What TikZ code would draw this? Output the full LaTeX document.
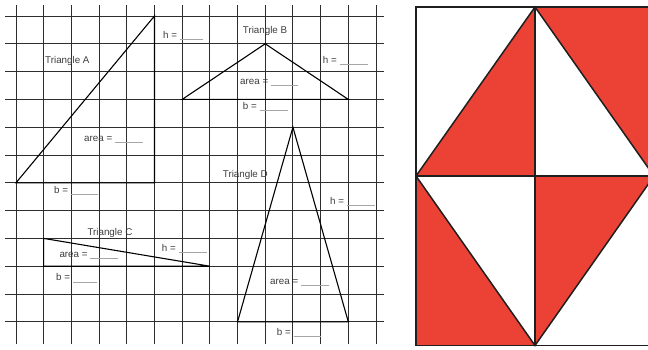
\documentclass[tikz,border=0pt]{standalone}
\usepackage{fontspec}
\setmainfont{Liberation Sans}
\definecolor{redfill}{RGB}{236,66,54}
\definecolor{gridc}{RGB}{45,45,45}
\definecolor{labc}{RGB}{60,60,60}
\tikzset{
  gridline/.style={draw=gridc, line width=0.9pt},
  tri/.style={draw=black, line width=1.1pt, line join=miter},
  lbl/.style={font=\fontsize{9.8}{12}\selectfont, text=labc, inner sep=0pt, anchor=base west},
  panel/.style={draw=black!88, line width=1.5pt},
}
\newcommand{\blankline}[1]{{\color{gray!70}\rule[-1.5pt]{#1pt}{0.8pt}}}
\begin{document}
\begin{tikzpicture}[x=1pt,y=-1pt]
\useasboundingbox (0,0) rectangle (648,349);
\begin{scope}
\clip (0,0) rectangle (648,349);
% grid
\foreach \i in {0,...,13} \draw[gridline] ({16+\i*27.6923},5) -- ({16+\i*27.6923},344);
\foreach \j in {0,...,11} \draw[gridline] (5,{16+\j*27.8}) -- (384,{16+\j*27.8});

% Triangle A
\coordinate (A1) at (16,182.8);
\coordinate (A2) at (154.46,16);
\coordinate (A3) at (154.46,182.8);
\draw[tri] (A1) -- (A2) -- (A3) -- cycle;
% Triangle B
\coordinate (B1) at (182.15,99.4);
\coordinate (B2) at (265.23,43.8);
\coordinate (B3) at (348.31,99.4);
\draw[tri] (B1) -- (B2) -- (B3) -- cycle;
% Triangle C
\coordinate (C1) at (43.69,238.4);
\coordinate (C2) at (43.69,266.2);
\coordinate (C3) at (209.85,266.2);
\draw[tri] (C1) -- (C2) -- (C3) -- cycle;
% Triangle D
\coordinate (D1) at (237.54,321.8);
\coordinate (D2) at (292.92,127.2);
\coordinate (D3) at (348.31,321.8);
\draw[tri] (D1) -- (D2) -- (D3) -- cycle;

% labels
\node[lbl] (tA) at (45,63) {Triangle A};
\node[lbl] (hA) at (163,38.5) {h = \blankline{23}};
\node[lbl] (aA) at (84,141.2) {area = \blankline{28}};
\node[lbl] (bA) at (54,193.5) {b = \blankline{27.5}};

\node[lbl] (tB) at (242.7,33) {Triangle B};
\node[lbl] (hB) at (322.7,63.5) {h = \blankline{28}};
\node[lbl] (aB) at (240,84.5) {area = \blankline{27.5}};
\node[lbl] (bB) at (242.7,109.2) {b = \blankline{28}};

\node[lbl] (tC) at (87.3,235.3) {Triangle C};
\node[lbl] (aC) at (59.3,257.5) {area = \blankline{27.5}};
\node[lbl] (hC) at (161.7,251.2) {h = \blankline{28}};
\node[lbl] (bC) at (56,280.8) {b = \blankline{24}};

\node[lbl] (tD) at (222.7,177.6) {Triangle D};
\node[lbl] (hD) at (330,204.5) {h = \blankline{27.7}};
\node[lbl] (aD) at (270,284.5) {area = \blankline{27.6}};
\node[lbl] (bD) at (276.7,335.2) {b = \blankline{27.7}};

% right panel
\coordinate (TL) at (416,7);
\coordinate (TM) at (535,7);
\coordinate (TR) at (654,7);
\coordinate (ML) at (416,176);
\coordinate (CC) at (535,176);
\coordinate (MR) at (654,176);
\coordinate (BL) at (416,345.5);
\coordinate (BM) at (535,345.5);
\coordinate (BR) at (654,345.5);
\fill[redfill] (ML) -- (TM) -- (CC) -- cycle;
\fill[redfill] (TM) -- (TR) -- (MR) -- cycle;
\fill[redfill] (ML) -- (BL) -- (BM) -- cycle;
\fill[redfill] (CC) -- (MR) -- (BM) -- cycle;
\draw[panel] (TL) rectangle (BR);
\draw[panel] (TM) -- (BM);
\draw[panel] (ML) -- (MR);
\draw[panel, line join=miter] (TM) -- (ML) -- (BM) -- (MR) -- cycle;
\end{scope}
\end{tikzpicture}
\end{document}
